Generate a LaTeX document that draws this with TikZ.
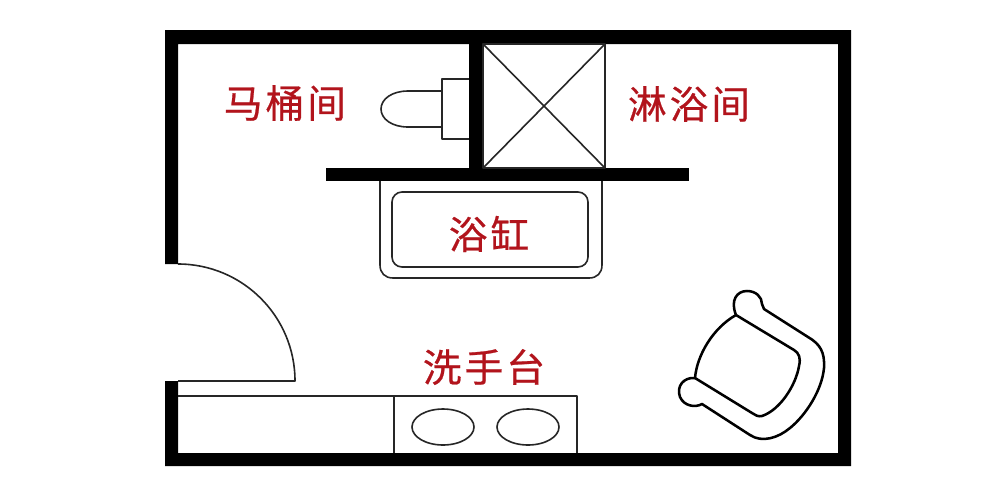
\documentclass[tikz,border=0pt]{standalone}
\usepackage{fontspec}
\usepackage{tikz}
\newfontfamily\cjk[LetterSpace=8, FakeBold=0.6]{Noto Sans CJK SC}
\definecolor{labelred}{RGB}{178,20,28}
\tikzset{wall/.style = {fill = black, draw = none}}
\tikzset{fixture/.style = {draw = black!85, line width = 1.2pt, line join = round}}
\tikzset{chairline/.style = {draw = black, line width = 1.9pt, line join = round}}
\tikzset{roomlabel/.style = {text = labelred, inner sep = 0, font = \cjk\fontsize{29}{29}\selectfont}}

\begin{document}
\begin{tikzpicture}[x = 0.75pt, y = -0.75pt]
      \useasboundingbox (0, 0) rectangle (1000, 494);
      \fill [white] (0, 0) rectangle (1000, 494);

      % walls
      \fill [wall] (165, 264) -- (165, 30) -- (851, 30) -- (851, 466) -- (165, 466) -- (165, 381)
                   -- (178, 381) -- (178, 453) -- (838, 453) -- (838, 44) -- (178, 44) -- (178, 264) -- cycle;
      \fill [wall] (469, 44) rectangle (483, 170);
      \fill [wall] (326, 168) rectangle (689, 181);

      % shower
      \draw [fixture] (483, 44) rectangle (605, 168);
      \draw [fixture] (483, 44) -- (605, 168);
      \draw [fixture] (605, 44) -- (483, 168);

      % toilet
      \draw [fixture] (469, 79) -- (442, 79) -- (442, 139) -- (469, 139);
      \draw [fixture] (442, 91) -- (408, 91) .. controls (392, 91) and (381, 99) .. (381, 109)
                      .. controls (381, 119) and (392, 127) .. (408, 127) -- (442, 127);

      % tub
      \draw [fixture] (380, 181) -- (380, 265) .. controls (380, 273) and (385, 278) .. (393, 278)
                      -- (589, 278) .. controls (597, 278) and (602, 273) .. (602, 265) -- (602, 181);
      \draw [fixture, rounded corners = 7.5pt] (392, 192) rectangle (588, 267);

      % door
      \draw [fixture] (178, 264) arc (-90: 0:117) -- (178, 381);

      % counter
      \draw [fixture] (178, 396) -- (577, 396) -- (577, 453);
      \draw [fixture] (394, 396) -- (394, 453);
      \draw [fixture] (443, 427) circle [x radius = 31, y radius = 18];
      \draw [fixture] (528, 427) circle [x radius = 31, y radius = 18];

      % chair
      \draw [chairline] (736, 315) .. controls (730, 300) and (737, 291) .. (747, 291)
                        .. controls (756, 291) and (762, 297) .. (762, 304) -- (764, 309)
                        -- (808, 337) .. controls (820, 344) and (825, 352) .. (824, 368)
                        .. controls (822, 390) and (806, 415) .. (790, 428)
                        .. controls (778, 438) and (762, 443) .. (750, 435)
                        -- (702, 404) .. controls (695, 408) and (684, 406) .. (680, 397)
                        .. controls (676, 386) and (684, 377) .. (695, 378);
      \draw [chairline] (736, 315) -- (794, 350) .. controls (799, 353) and (801, 358) .. (799, 366)
                        .. controls (796, 385) and (780, 410) .. (762, 416)
                        .. controls (758, 417) and (755, 415) .. (752, 413) -- (695, 378)
                        .. controls (697, 355) and (713, 328) .. (736, 315);

      \node [roomlabel] (toiletroom) at (285, 103) {马桶间};
      \node [roomlabel] (showerroom) at (689, 104) {淋浴间};
      \node [roomlabel] (tublabel) at (489, 234) {浴缸};
      \node [roomlabel] (sinklabel) at (484, 367) {洗手台};
    \end{tikzpicture}
\end{document}
